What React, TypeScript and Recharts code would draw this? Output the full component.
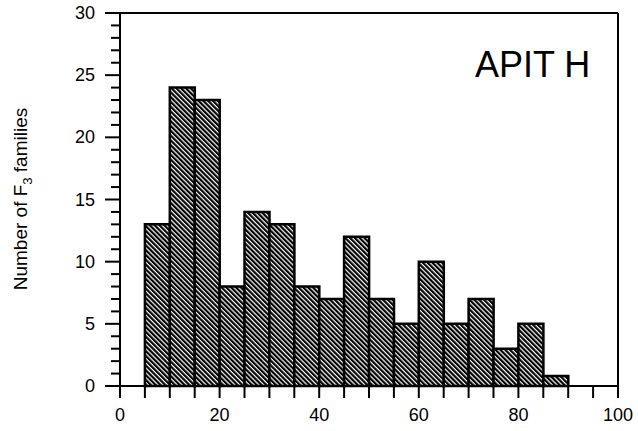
import { Bar, BarChart, ReferenceLine, XAxis, YAxis } from "recharts";

// histogram bins (bin centre, 5-unit wide) and counts of F3 families
const binCenters = [7.5, 12.5, 17.5, 22.5, 27.5, 32.5, 37.5, 42.5, 47.5, 52.5, 57.5, 62.5, 67.5, 72.5, 77.5, 82.5, 87.5];
const counts = [13, 24, 23, 8, 14, 13, 8, 7, 12, 7, 5, 10, 5, 7, 3, 5, 0.8];

const xTicks = [0, 5, 10, 15, 20, 25, 30, 35, 40, 45, 50, 55, 60, 65, 70, 75, 80, 85, 90, 95, 100];
const xLabels = [0, 20, 40, 60, 80, 100];
const yTicks = Array.from({ length: 31 }, (_, i) => i);
const yLabels = [0, 5, 10, 15, 20, 25, 30];

const title = "APIT H";

const data = binCenters.map((x, i) => ({ x, n: counts[i] }));

const FONT = '"Liberation Sans", Arial, Helvetica, sans-serif';

function XTick(props: any) {
  const { x, y, payload } = props;
  const v = payload.value;
  return (
    <g>
      <line x1={x} x2={x} y1={y} y2={y + 12} stroke="#000" strokeWidth={2} />
      {xLabels.includes(v) && (
        <text x={x} y={y + 35} textAnchor="middle" fontSize={18} fontFamily={FONT} fill="#000">
          {v}
        </text>
      )}
    </g>
  );
}

function YTick(props: any) {
  const { x, y, payload } = props;
  const v = payload.value;
  const major = yLabels.includes(v);
  return (
    <g>
      <line x1={x - (major ? 15 : 9)} x2={x} y1={y} y2={y} stroke="#000" strokeWidth={2} />
      {major && (
        <text x={x - 25} y={y + 6} textAnchor="end" fontSize={18} fontFamily={FONT} fill="#000">
          {v}
        </text>
      )}
    </g>
  );
}

function YLabel() {
  return (
    <text
      transform="translate(27, 199) rotate(-90)"
      textAnchor="middle"
      fontSize={19}
      fontFamily={FONT}
      fill="#000"
    >
      Number of F
      <tspan fontSize={13} dy={5}>3</tspan>
      <tspan dy={-5}> families</tspan>
    </text>
  );
}

export default function App() {
  return (
    <div style={{ position: "absolute", left: 0, top: 0, background: "#fff" }}>
      <BarChart
        width={638}
        height={431}
        data={data}
        margin={{ top: 13, right: 20, bottom: 0, left: 60 }}
        barCategoryGap={0}
        barGap={0}
      >
        <defs>
          <pattern
            id="hatch"
            patternUnits="userSpaceOnUse"
            width={3.4}
            height={3.4}
            patternTransform="rotate(-45)"
          >
            <rect width={3.4} height={3.4} fill="#fff" />
            <rect width={2.2} height={3.4} fill="#000" />
          </pattern>
        </defs>
        <XAxis
          dataKey="x"
          type="number"
          domain={[0, 100]}
          ticks={xTicks}
          interval={0}
          height={45}
          tickSize={0}
          tickMargin={0}
          tickLine={false}
          tick={<XTick />}
          axisLine={{ stroke: "#000", strokeWidth: 2 }}
        />
        <YAxis
          type="number"
          domain={[0, 30]}
          ticks={yTicks}
          interval={0}
          width={60}
          tickSize={0}
          tickMargin={0}
          tickLine={false}
          tick={<YTick />}
          axisLine={{ stroke: "#000", strokeWidth: 2 }}
          label={{ content: <YLabel /> }}
        />
        <ReferenceLine y={30} stroke="#000" strokeWidth={2} />
        <ReferenceLine x={100} stroke="#000" strokeWidth={2} />
        <Bar dataKey="n" fill="url(#hatch)" stroke="#000" strokeWidth={2.5} isAnimationActive={false} />
        <text x={475} y={77} fontSize={36} fontFamily={FONT} fill="#000">
          {title}
        </text>
      </BarChart>
    </div>
  );
}
